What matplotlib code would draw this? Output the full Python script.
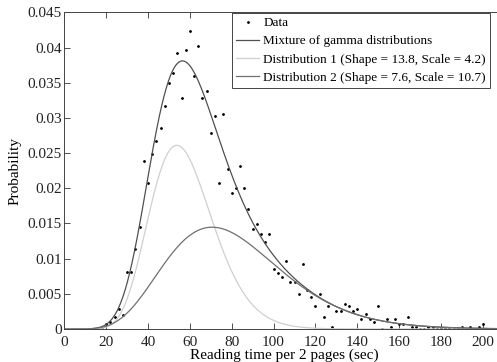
import math
import numpy as np
import matplotlib.pyplot as plt

# reading times (sec per 2 pages), binned every 2 sec
data_x = np.arange(0, 206, 2)
data_y = [0, 0, 0, 0, 0, 0, 0, 0, 0.0002, 0,
          0.0007, 0.001, 0.0017, 0.0028, 0.002, 0.0081, 0.0081, 0.0114, 0.0145, 0.0239,
          0.0207, 0.0249, 0.0267, 0.0286, 0.0317, 0.035, 0.0364, 0.0392, 0.0328, 0.0396,
          0.0424, 0.036, 0.0403, 0.0328, 0.0339, 0.0278, 0.0303, 0.0207, 0.0306, 0.0228,
          0.0193, 0.02, 0.0232, 0.02, 0.0171, 0.0142, 0.0149, 0.0135, 0.0124, 0.0135,
          0.0085, 0.0079, 0.0074, 0.0096, 0.0067, 0.0067, 0.005, 0.0092, 0.0056, 0.0046,
          0.0032, 0.005, 0.0017, 0.0032, 0.0003, 0.0025, 0.0025, 0.0035, 0.0032, 0.0025,
          0.0028, 0.0014, 0.0021, 0.0014, 0.001, 0.0032, 0, 0.0014, 0.0003, 0.0014,
          0.0007, 0.0007, 0.0017, 0.0003, 0.0003, 0, 0, 0.0003, 0.0003, 0,
          0.0002, 0.0002, 0.0002, 0, 0.0002, 0.0003, 0, 0.0003, 0, 0.0003,
          0.0007, 0, 0]

# fitted mixture parameters (from the legend)
shape1, scale1, weight1 = 13.8, 4.2, 0.495
shape2, scale2, weight2 = 7.6, 10.7, 0.505
bin_width = 2


def gamma_pdf(x, k, theta):
    x = np.asarray(x, dtype=float)
    out = np.zeros_like(x)
    pos = x > 0
    out[pos] = np.exp((k - 1) * np.log(x[pos]) - x[pos] / theta
                      - math.lgamma(k) - k * math.log(theta))
    return out


xs = np.linspace(0, 210, 600)
dist1 = bin_width * weight1 * gamma_pdf(xs, shape1, scale1)
dist2 = bin_width * weight2 * gamma_pdf(xs, shape2, scale2)
mixture = dist1 + dist2

plt.rcParams['font.family'] = ['Liberation Serif', 'DejaVu Serif']
plt.rcParams['font.size'] = 11

fig = plt.figure(figsize=(4.97, 3.62), dpi=100)
ax = fig.add_axes([0.1294, 0.0912, 0.8843, 0.8743])

ax.plot(data_x, data_y, '.', color='black', markersize=2, label='Data')
ax.plot(xs, mixture, color='#505050', linewidth=0.9, label='Mixture of gamma distributions')
ax.plot(xs, dist1, color='#cfcfcf', linewidth=0.9,
        label='Distribution 1 (Shape = 13.8, Scale = 4.2)')
ax.plot(xs, dist2, color='#707070', linewidth=0.9,
        label='Distribution 2 (Shape = 7.6, Scale = 10.7)')

ax.set_xlim(0, 210)
ax.set_ylim(0, 0.045)
ax.set_xticks(np.arange(0, 201, 20))
ax.set_yticks(np.arange(0, 0.0451, 0.005))
ax.set_yticklabels(['0', '0.005', '0.01', '0.015', '0.02', '0.025',
                    '0.03', '0.035', '0.04', '0.045'])
ax.tick_params(direction='in', top=True, right=True, length=4, width=0.6,
               colors='#333333', labelcolor='#222222')
ax.tick_params(axis='x', pad=5)
ax.tick_params(axis='y', pad=2)
for s in ax.spines.values():
    s.set_linewidth(0.7)
    s.set_color('#444444')

ax.set_xlabel('Reading time per 2 pages (sec)', labelpad=0)
ax.set_ylabel('Probability', labelpad=4)

leg = ax.legend(loc='upper right', bbox_to_anchor=(490 / 497, 1 - 13 / 362),
                bbox_transform=fig.transFigure, frameon=True, fancybox=False,
                fontsize=9.5, borderpad=0.3, labelspacing=0.45, handlelength=1.8,
                handletextpad=0.3, borderaxespad=0, markerscale=1)
leg.get_frame().set_edgecolor('#444444')
leg.get_frame().set_linewidth(0.7)
leg.get_frame().set_alpha(1)

fig.savefig('out.png', dpi=100)
